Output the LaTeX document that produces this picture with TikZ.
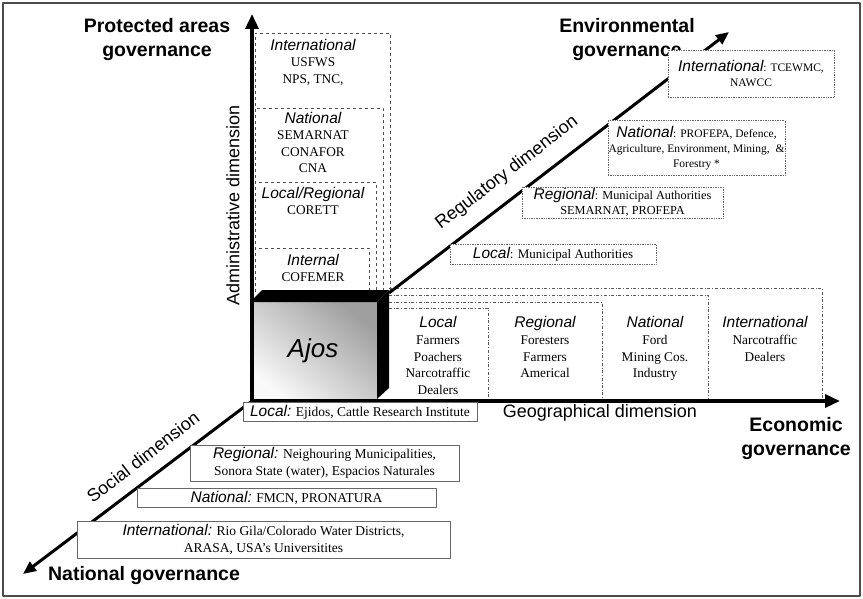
\documentclass[tikz,border=0pt]{standalone}
\usepackage{fontspec}
\setmainfont{Liberation Serif}
\setsansfont{Liberation Sans}
\usetikzlibrary{arrows.meta}
\newcommand{\lvltag}[1]{{\fontsize{15.5}{17}\sffamily\itshape #1}}
\tikzset{
  axis/.style={line width=3.5pt, -{Triangle[length=15pt, width=13pt]}},
  diag/.style={line width=3pt, -{Triangle[length=13pt, width=11pt]}},
  txt/.style={align=center, inner sep=0pt},
  dimlabel/.style={font=\fontsize{18}{20}\sffamily},
  govlabel/.style={font=\fontsize{19.5}{24}\sffamily\bfseries, align=center},
  adminbox/.style={draw=black!70, dashed, line width=0.6pt},
  geobox/.style={draw=black!65, dash dot, line width=0.6pt},
  regbox/.style={txt, draw=black!60, densely dotted, line width=0.7pt, fill=white, font=\fontsize{11.5}{15}\selectfont},
  socbox/.style={txt, draw=black!60, line width=0.8pt, fill=white, font=\fontsize{13.5}{17}\selectfont}
}
\begin{document}
\begin{tikzpicture}[x=1pt, y=-1pt, line join=round, font=\fontsize{13.3}{16.5}\selectfont]
\useasboundingbox (0,0) rectangle (863,599);
\path
  (252,401) coordinate (O)
  (252,14) coordinate (PA)
  (840,401) coordinate (EC)
  (389,293) coordinate (C)
  (729,32) coordinate (EN)
  (23,574) coordinate (NG);
\draw[black!70, line width=1.2pt] (3,3) rectangle (860,596);
\foreach \tp/\rt in {33/390, 108/383, 182/376, 248/369} \draw[adminbox] (255,292) |- (\rt,\tp) -- (\rt,292);
\foreach \tp/\rt in {288/822, 295/708, 302/602, 308/488} \draw[geobox] (389,\tp) -| (\rt,401);
\shade[top color=gray!75, bottom color=gray!5, shading angle=-40] (250,302) rectangle (377,399);
\fill (250,302) -- (262,290) -- (389,290) -- (377,302) -- cycle;
\fill (377,302) -- (389,290) -- (389,388) -- (377,399) -- cycle;
\node[font=\fontsize{26}{30}\sffamily\itshape] (ajos) at (313,351) {Ajos};
\draw[axis] (O) -- (PA);
\draw[axis] (O) -- (EC);
\draw[diag] (O) -- (NG);
\draw[diag] (C) -- (EN);
\node[govlabel] (pag) at (157,40) {Protected areas\\governance};
\node[govlabel] (eng) at (627,40) {Environmental\\governance};
\node[govlabel] (ecg) at (796,438) {Economic\\governance};
\node[govlabel] (nag) at (144,575) {National governance};
\node[dimlabel, rotate=90] (adm) at (233,205) {Administrative dimension};
\node[dimlabel, rotate=37.5] (regd) at (507,173) {Regulatory dimension};
\node[dimlabel] (geod) at (600,413) {Geographical dimension};
\node[dimlabel, rotate=37.5] (socd) at (143,457) {Social dimension};
\foreach \n/\y/\t in {adI/39/{\lvltag{International}\\USFWS\\NPS, TNC,}, adN/112/{\lvltag{National}\\SEMARNAT\\CONAFOR\\CNA}, adL/187/{\lvltag{Local/Regional}\\CORETT}, adP/254/{\lvltag{Internal}\\COFEMER}}
  \node[txt, anchor=north] (\n) at (313,\y) {\t};
\foreach \n/\x/\t in {gcL/438/{\lvltag{Local}\\Farmers\\Poachers\\Narcotraffic\\Dealers}, gcR/545/{\lvltag{Regional}\\Foresters\\Farmers\\Americal}, gcN/655/{\lvltag{National}\\Ford\\Mining Cos.\\Industry}, gcI/765/{\lvltag{International}\\Narcotraffic\\Dealers}}
  \node[txt, anchor=north, font=\fontsize{13.3}{16.8}\selectfont] (\n) at (\x,316) {\t};
\node[regbox, minimum width=206pt, minimum height=20pt, font=\fontsize{13}{15}\selectfont] (regL) at (553,254) {\lvltag{Local}: Municipal Authorities};
\node[regbox, minimum width=201pt, minimum height=31pt, font=\fontsize{12.3}{14.5}\selectfont] (regR) at (622.5,202.5) {\lvltag{Regional}: Municipal Authorities\\SEMARNAT, PROFEPA};
\node[regbox, minimum width=177pt, minimum height=55pt] (regN) at (696.5,148) {\lvltag{National}: PROFEPA, Defence,\\Agriculture, Environment, Mining,~~\&\\Forestry *};
\node[regbox, minimum width=166pt, minimum height=47pt] (regI) at (751,73.5) {\lvltag{International}: TCEWMC,\\NAWCC};
\node[socbox, minimum width=234pt, minimum height=19pt] (socL) at (360,412) {\lvltag{Local:} Ejidos, Cattle Research Institute};
\node[socbox, minimum width=269pt, minimum height=36pt] (socR) at (324.5,463) {\lvltag{Regional:} Neighouring Municipalities,\\Sonora State (water), Espacios Naturales};
\node[socbox, minimum width=299pt, minimum height=19pt] (socN) at (286.5,497.5) {\lvltag{National:} FMCN, PRONATURA};
\node[socbox, minimum width=373pt, minimum height=37pt] (socI) at (263.5,539.5) {\lvltag{International:} Rio Gila/Colorado Water Districts,\\ARASA, USA’s Universitites};
\end{tikzpicture}
\end{document}
